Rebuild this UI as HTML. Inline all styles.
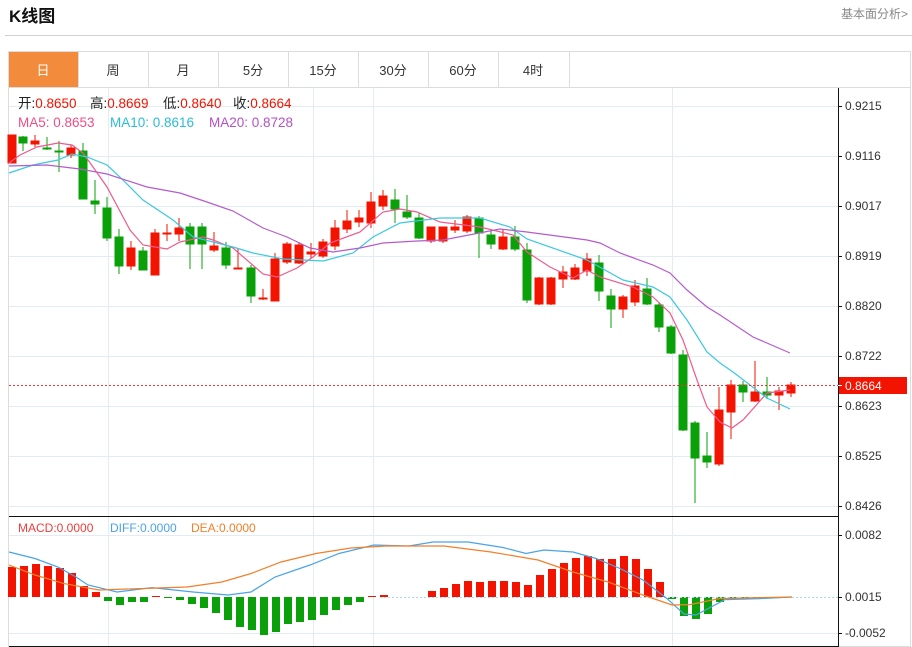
<!DOCTYPE html>
<html><head><meta charset="utf-8"><style>
body{margin:0;background:#fff;width:912px;height:647px;overflow:hidden;font-family:"Liberation Sans","Noto Sans CJK SC",sans-serif}
</style></head><body>
<svg width="912" height="647" xmlns="http://www.w3.org/2000/svg" style="position:absolute;left:0;top:0" font-family="Liberation Sans, Noto Sans CJK SC, sans-serif">
<text x="9" y="22" font-size="17" font-weight="bold" fill="#111">K线图</text>
<text x="841" y="18" font-size="12" fill="#888">基本面分析&gt;</text>
<line x1="5" y1="35.5" x2="912" y2="35.5" stroke="#d0d0d0"/>
<rect x="8.5" y="51.5" width="902" height="595" fill="none" stroke="#dcdcdc"/>
<line x1="9" y1="87.5" x2="910" y2="87.5" stroke="#dcdcdc"/>
<rect x="9" y="52" width="69" height="35" fill="#f28c3c"/>
<g stroke="#dcdcdc"><line x1="78.5" y1="52" x2="78.5" y2="87"/><line x1="148.5" y1="52" x2="148.5" y2="87"/><line x1="218.5" y1="52" x2="218.5" y2="87"/><line x1="288.5" y1="52" x2="288.5" y2="87"/><line x1="358.5" y1="52" x2="358.5" y2="87"/><line x1="428.5" y1="52" x2="428.5" y2="87"/><line x1="498.5" y1="52" x2="498.5" y2="87"/><line x1="569.5" y1="52" x2="569.5" y2="87"/></g>
<g font-size="13" text-anchor="middle" fill="#333"><text x="43" y="75" fill="#fff">日</text><text x="113" y="75">周</text><text x="183" y="75">月</text><text x="253" y="75">5分</text><text x="323" y="75">15分</text><text x="393" y="75">30分</text><text x="463" y="75">60分</text><text x="533" y="75">4时</text></g>
<g stroke="#e3ebf3"><line x1="9" y1="106.5" x2="838" y2="106.5"/><line x1="9" y1="156.5" x2="838" y2="156.5"/><line x1="9" y1="206.5" x2="838" y2="206.5"/><line x1="9" y1="256.5" x2="838" y2="256.5"/><line x1="9" y1="306.5" x2="838" y2="306.5"/><line x1="9" y1="356.5" x2="838" y2="356.5"/><line x1="9" y1="406.5" x2="838" y2="406.5"/><line x1="9" y1="456.5" x2="838" y2="456.5"/><line x1="9" y1="506.5" x2="838" y2="506.5"/><line x1="9" y1="535.5" x2="838" y2="535.5"/><line x1="9" y1="633.5" x2="838" y2="633.5"/>
<line x1="108.5" y1="88" x2="108.5" y2="646"/><line x1="313.5" y1="88" x2="313.5" y2="646"/><line x1="373.5" y1="88" x2="373.5" y2="646"/><line x1="672.5" y1="88" x2="672.5" y2="646"/></g>
<line x1="9" y1="516.5" x2="838" y2="516.5" stroke="#111"/>
<line x1="9" y1="646.5" x2="838" y2="646.5" stroke="#111"/>
<line x1="838.5" y1="88" x2="838.5" y2="647" stroke="#111"/>
<g font-size="12" fill="#333"><text x="845" y="110">0.9215</text><text x="845" y="160">0.9116</text><text x="845" y="210">0.9017</text><text x="845" y="260">0.8919</text><text x="845" y="310">0.8820</text><text x="845" y="360">0.8722</text><text x="845" y="410">0.8623</text><text x="845" y="460">0.8525</text><text x="845" y="510">0.8426</text><text x="845" y="539">0.0082</text><text x="845" y="601">0.0015</text><text x="845" y="637">-0.0052</text></g>
<g stroke="#111"><line x1="838" y1="106.5" x2="842" y2="106.5"/><line x1="838" y1="156.5" x2="842" y2="156.5"/><line x1="838" y1="206.5" x2="842" y2="206.5"/><line x1="838" y1="256.5" x2="842" y2="256.5"/><line x1="838" y1="306.5" x2="842" y2="306.5"/><line x1="838" y1="356.5" x2="842" y2="356.5"/><line x1="838" y1="406.5" x2="842" y2="406.5"/><line x1="838" y1="456.5" x2="842" y2="456.5"/><line x1="838" y1="506.5" x2="842" y2="506.5"/><line x1="838" y1="535.5" x2="842" y2="535.5"/><line x1="838" y1="597.5" x2="842" y2="597.5"/><line x1="838" y1="633.5" x2="842" y2="633.5"/></g>
<g stroke-width="1">
<g fill="#f21400" stroke="#f21400">
<line x1="12" y1="135" x2="12" y2="163"/><rect x="8" y="135" width="8" height="28"/>
<line x1="35" y1="135" x2="35" y2="147"/><rect x="31" y="141" width="8" height="3"/>
<line x1="71" y1="145" x2="71" y2="158"/><rect x="67" y="148" width="8" height="7"/>
<line x1="131" y1="241" x2="131" y2="270"/><rect x="127" y="248" width="8" height="18"/>
<line x1="155" y1="229" x2="155" y2="275"/><rect x="151" y="233" width="8" height="42"/>
<line x1="167" y1="224" x2="167" y2="241"/><rect x="163" y="233" width="8" height="1"/>
<line x1="179" y1="218" x2="179" y2="241"/><rect x="175" y="228" width="8" height="6"/>
<line x1="214" y1="232" x2="214" y2="252"/><rect x="210" y="246" width="8" height="4"/>
<line x1="238" y1="249" x2="238" y2="269"/><rect x="234" y="268" width="8" height="1"/>
<line x1="263" y1="289" x2="263" y2="300"/><rect x="259" y="298" width="8" height="1"/>
<line x1="275" y1="253" x2="275" y2="301"/><rect x="271" y="259" width="8" height="42"/>
<line x1="287" y1="242" x2="287" y2="264"/><rect x="283" y="244" width="8" height="18"/>
<line x1="299" y1="242" x2="299" y2="264"/><rect x="295" y="245" width="8" height="18"/>
<line x1="311" y1="243" x2="311" y2="258"/><rect x="307" y="252" width="8" height="2"/>
<line x1="323" y1="239" x2="323" y2="258"/><rect x="319" y="242" width="8" height="14"/>
<line x1="335" y1="220" x2="335" y2="250"/><rect x="331" y="228" width="8" height="18"/>
<line x1="347" y1="210" x2="347" y2="233"/><rect x="343" y="221" width="8" height="8"/>
<line x1="359" y1="210" x2="359" y2="227"/><rect x="355" y="218" width="8" height="4"/>
<line x1="371" y1="192" x2="371" y2="228"/><rect x="367" y="202" width="8" height="21"/>
<line x1="383" y1="190" x2="383" y2="210"/><rect x="379" y="196" width="8" height="10"/>
<line x1="431" y1="227" x2="431" y2="243"/><rect x="427" y="227" width="8" height="14"/>
<line x1="443" y1="227" x2="443" y2="243"/><rect x="439" y="227" width="8" height="14"/>
<line x1="455" y1="220" x2="455" y2="233"/><rect x="451" y="227" width="8" height="3"/>
<line x1="467" y1="215" x2="467" y2="233"/><rect x="463" y="217" width="8" height="14"/>
<line x1="503" y1="230" x2="503" y2="250"/><rect x="499" y="237" width="8" height="12"/>
<line x1="539" y1="277" x2="539" y2="305"/><rect x="535" y="278" width="8" height="26"/>
<line x1="551" y1="277" x2="551" y2="305"/><rect x="547" y="278" width="8" height="26"/>
<line x1="563" y1="266" x2="563" y2="288"/><rect x="559" y="272" width="8" height="7"/>
<line x1="575" y1="264" x2="575" y2="280"/><rect x="571" y="268" width="8" height="11"/>
<line x1="587" y1="253" x2="587" y2="276"/><rect x="583" y="259" width="8" height="12"/>
<line x1="623" y1="295" x2="623" y2="318"/><rect x="619" y="297" width="8" height="12"/>
<line x1="635" y1="280" x2="635" y2="306"/><rect x="631" y="286" width="8" height="16"/>
<line x1="719" y1="387" x2="719" y2="466"/><rect x="715" y="410" width="8" height="54"/>
<line x1="731" y1="380" x2="731" y2="439"/><rect x="727" y="385" width="8" height="27"/>
<line x1="755" y1="361" x2="755" y2="402"/><rect x="751" y="392" width="8" height="9"/>
<line x1="779" y1="387" x2="779" y2="410"/><rect x="775" y="391" width="8" height="4"/>
<line x1="791" y1="382" x2="791" y2="397"/><rect x="787" y="385" width="8" height="8"/>
</g>
<g fill="#0aa00a" stroke="#0aa00a">
<line x1="23" y1="136" x2="23" y2="151"/><rect x="19" y="137" width="8" height="6"/>
<line x1="47" y1="137" x2="47" y2="150"/><rect x="43" y="148" width="8" height="1"/>
<line x1="59" y1="141" x2="59" y2="172"/><rect x="55" y="151" width="8" height="1"/>
<line x1="83" y1="143" x2="83" y2="199"/><rect x="79" y="151" width="8" height="48"/>
<line x1="95" y1="180" x2="95" y2="214"/><rect x="91" y="201" width="8" height="3"/>
<line x1="107" y1="197" x2="107" y2="241"/><rect x="103" y="208" width="8" height="30"/>
<line x1="119" y1="229" x2="119" y2="274"/><rect x="115" y="237" width="8" height="29"/>
<line x1="143" y1="247" x2="143" y2="270"/><rect x="139" y="251" width="8" height="19"/>
<line x1="190" y1="223" x2="190" y2="269"/><rect x="186" y="227" width="8" height="17"/>
<line x1="202" y1="223" x2="202" y2="269"/><rect x="198" y="227" width="8" height="17"/>
<line x1="226" y1="242" x2="226" y2="269"/><rect x="222" y="248" width="8" height="17"/>
<line x1="251" y1="265" x2="251" y2="303"/><rect x="247" y="268" width="8" height="28"/>
<line x1="395" y1="189" x2="395" y2="223"/><rect x="391" y="200" width="8" height="9"/>
<line x1="407" y1="195" x2="407" y2="219"/><rect x="403" y="212" width="8" height="5"/>
<line x1="419" y1="213" x2="419" y2="239"/><rect x="415" y="218" width="8" height="20"/>
<line x1="479" y1="216" x2="479" y2="258"/><rect x="475" y="218" width="8" height="15"/>
<line x1="491" y1="230" x2="491" y2="249"/><rect x="487" y="235" width="8" height="9"/>
<line x1="515" y1="226" x2="515" y2="251"/><rect x="511" y="237" width="8" height="12"/>
<line x1="527" y1="243" x2="527" y2="303"/><rect x="523" y="250" width="8" height="50"/>
<line x1="599" y1="255" x2="599" y2="301"/><rect x="595" y="263" width="8" height="28"/>
<line x1="611" y1="289" x2="611" y2="328"/><rect x="607" y="296" width="8" height="13"/>
<line x1="647" y1="278" x2="647" y2="305"/><rect x="643" y="289" width="8" height="15"/>
<line x1="659" y1="303" x2="659" y2="332"/><rect x="655" y="305" width="8" height="22"/>
<line x1="671" y1="325" x2="671" y2="354"/><rect x="667" y="327" width="8" height="26"/>
<line x1="683" y1="350" x2="683" y2="431"/><rect x="679" y="355" width="8" height="75"/>
<line x1="695" y1="421" x2="695" y2="503"/><rect x="691" y="423" width="8" height="35"/>
<line x1="707" y1="432" x2="707" y2="468"/><rect x="703" y="456" width="8" height="6"/>
<line x1="743" y1="381" x2="743" y2="402"/><rect x="739" y="385" width="8" height="7"/>
<line x1="767" y1="377" x2="767" y2="399"/><rect x="763" y="392" width="8" height="3"/>
</g>
</g>
<polyline fill="none" stroke="#ef5a8c" stroke-width="1.2" points="9,163 20,155 37,147 58,143 72,145 83,153 93,167 107,187 130,230 143,245 167,249 180,242 203,237 213,240 233,248 263,274 277,277 297,268 313,257 330,243 360,232 383,212 400,209 417,212 440,222 480,227 513,235 527,252 550,267 573,278 587,270 600,277 633,287 653,297 670,313 683,340 697,380 707,407 720,422 732,428 743,420 767,393 790,390"/>
<polyline fill="none" stroke="#3cc8e0" stroke-width="1.2" points="9,173 33,165 58,160 72,154 87,157 107,165 123,180 143,200 173,220 193,237 233,247 253,253 283,259 323,261 353,253 373,237 400,223 440,218 480,218 510,227 527,239 587,260 623,280 653,287 670,297 687,320 707,352 720,363 733,372 767,398 790,409"/>
<polyline fill="none" stroke="#b55ccc" stroke-width="1.2" points="9,166 47,165 80,169 107,174 147,187 180,193 207,202 233,211 263,228 287,237 310,248 333,252 360,248 383,243 417,241 443,240 500,229 527,232 587,240 600,243 620,253 653,265 670,273 687,290 707,307 720,315 753,337 790,353"/>
<line x1="9" y1="385.5" x2="838" y2="385.5" stroke="#e33" stroke-dasharray="2,2"/>
<rect x="839" y="377" width="68" height="17" fill="#f21400"/>
<line x1="838" y1="385.5" x2="842" y2="385.5" stroke="#fff"/>
<text x="845" y="390" font-size="12" fill="#fff">0.8664</text>
<g font-size="13.5">
<text x="18" y="108" fill="#222">开:<tspan fill="#f21400">0.8650</tspan></text>
<text x="90" y="108" fill="#222">高:<tspan fill="#f21400">0.8669</tspan></text>
<text x="163" y="108" fill="#222">低:<tspan fill="#f21400">0.8640</tspan></text>
<text x="233" y="108" fill="#222">收:<tspan fill="#f21400">0.8664</tspan></text>
<text x="18" y="127" fill="#ef4f83">MA5: 0.8653</text><text x="110" y="127" fill="#2bbcd8">MA10: 0.8616</text><text x="209" y="127" fill="#b352c4">MA20: 0.8728</text></g>
<g font-size="12"><text x="18" y="532" fill="#f03c3c">MACD:0.0000</text><text x="110" y="532" fill="#4aa3e8">DIFF:0.0000</text><text x="191" y="532" fill="#f27f2a">DEA:0.0000</text></g>
<g fill="#f21400">
<rect x="8" y="567" width="8" height="30"/><rect x="20" y="566" width="8" height="31"/><rect x="32" y="564" width="8" height="33"/><rect x="44" y="566" width="8" height="31"/><rect x="56" y="568" width="8" height="29"/><rect x="68" y="573" width="8" height="24"/><rect x="80" y="586" width="8" height="11"/><rect x="92" y="592" width="8" height="5"/>
<rect x="152" y="596" width="8" height="1"/><rect x="380" y="595" width="8" height="2"/><rect x="368" y="596" width="8" height="1"/>
<rect x="428" y="591" width="8" height="6"/><rect x="440" y="588" width="8" height="9"/><rect x="452" y="584" width="8" height="13"/><rect x="464" y="581" width="8" height="16"/><rect x="476" y="582" width="8" height="15"/><rect x="488" y="581" width="8" height="16"/><rect x="500" y="581" width="8" height="16"/><rect x="512" y="582" width="8" height="15"/><rect x="524" y="585" width="8" height="12"/><rect x="536" y="575" width="8" height="22"/><rect x="548" y="569" width="8" height="28"/><rect x="560" y="563" width="8" height="34"/><rect x="572" y="558" width="8" height="39"/><rect x="584" y="556" width="8" height="41"/><rect x="596" y="559" width="8" height="38"/><rect x="608" y="559" width="8" height="38"/><rect x="620" y="556" width="8" height="41"/><rect x="632" y="559" width="8" height="38"/><rect x="644" y="569" width="8" height="28"/><rect x="656" y="582" width="8" height="15"/>
</g>
<g fill="#0aa00a">
<rect x="104" y="597" width="8" height="4"/><rect x="116" y="597" width="8" height="8"/><rect x="128" y="597" width="8" height="5"/><rect x="140" y="597" width="8" height="5"/>
<rect x="164" y="597" width="8" height="1"/><rect x="176" y="597" width="8" height="3"/><rect x="188" y="597" width="8" height="7"/><rect x="200" y="597" width="8" height="11"/><rect x="212" y="597" width="8" height="16"/><rect x="224" y="597" width="8" height="23"/><rect x="236" y="597" width="8" height="30"/><rect x="248" y="597" width="8" height="33"/><rect x="260" y="597" width="8" height="38"/><rect x="272" y="597" width="8" height="35"/><rect x="284" y="597" width="8" height="27"/><rect x="296" y="597" width="8" height="25"/><rect x="308" y="597" width="8" height="23"/><rect x="320" y="597" width="8" height="18"/><rect x="332" y="597" width="8" height="13"/><rect x="344" y="597" width="8" height="8"/><rect x="356" y="597" width="8" height="5"/>
<rect x="668" y="597" width="8" height="2"/><rect x="680" y="597" width="8" height="19"/><rect x="692" y="597" width="8" height="22"/><rect x="704" y="597" width="8" height="17"/><rect x="716" y="597" width="8" height="5"/><rect x="728" y="597" width="8" height="2"/><rect x="740" y="597" width="8" height="1"/><rect x="752" y="597" width="8" height="1"/><rect x="764" y="597" width="8" height="1"/>
</g>
<line x1="380" y1="597.5" x2="838" y2="597.5" stroke="#a8d8ea" stroke-dasharray="2,2"/>
<polyline fill="none" stroke="#4aa3e8" stroke-width="1.2" points="9,552 35,558.5 58,567 76,577 88,585 117,592 152,587.6 193,592 228,595 251,592 275,577 310,565 339,553.5 374,545 409,546 433,542 468,542 503,547.5 526,553.5 544,550 573,552 596,558.5 620,568.5 643,580 667,598.6 684,614 696,615 725,599.6 760,598.6 792,597"/>
<polyline fill="none" stroke="#f27f2a" stroke-width="1.2" points="9,565 35,575 64,583.6 99,590 140,588.6 187,587 222,582 251,573.5 281,562 316,553.5 351,548 386,546 444,546 491,552 538,560 573,572 608,582 643,595 672,605 690,604.6 719,598.6 760,597.6 792,597"/>
</svg>
</body></html>
